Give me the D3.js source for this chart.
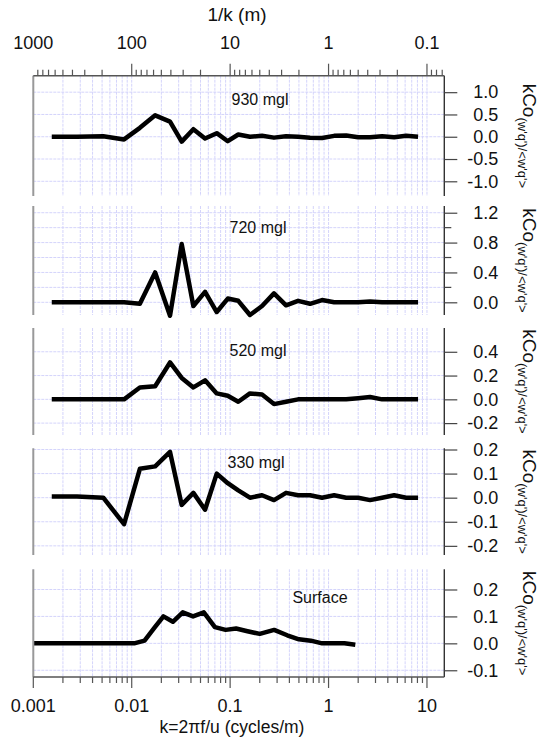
<!DOCTYPE html>
<html>
<head>
<meta charset="utf-8">
<script src="https://cdn.jsdelivr.net/npm/d3@7"></script>
<style>
  html, body { margin: 0; padding: 0; background: #fff; }
  svg { display: block; font-family: "Liberation Sans", Arial, sans-serif; }
</style>
</head>
<body>
<svg id="chart" width="539" height="738"></svg>
<script>
// Wavenumber grid shared by the four mixed-layer levels (cycles/m)
const kLevels = [0.00154, 0.00278, 0.00514, 0.00836, 0.0121, 0.0173, 0.0245, 0.0322,
  0.0423, 0.0556, 0.0731, 0.0946, 0.121, 0.159, 0.211, 0.279, 0.370, 0.490, 0.649,
  0.859, 1.14, 1.51, 2.00, 2.64, 3.50, 4.64, 6.14, 8.12];

// Normalised co-spectra kCo(w'q')/<w'q'> at each level
const co930 = [0.0, 0.0, 0.01, -0.06, 0.20, 0.48, 0.34, -0.11, 0.17, -0.04, 0.08, -0.10,
  0.05, 0.00, 0.02, -0.02, 0.01, 0.0, -0.02, -0.03, 0.02, 0.03, -0.01, -0.01, 0.01, -0.01, 0.02, 0.0];
const co720 = [0.0, 0.0, 0.0, 0.0, -0.02, 0.40, -0.18, 0.78, -0.05, 0.14, -0.13, 0.05,
  0.02, -0.17, -0.05, 0.12, -0.04, 0.02, -0.02, 0.03, 0.0, 0.0, 0.0, 0.01, 0.0, 0.0, 0.0, 0.0];
const co520 = [0.0, 0.0, 0.0, 0.0, 0.10, 0.11, 0.31, 0.18, 0.10, 0.16, 0.05, 0.03,
  -0.02, 0.05, 0.04, -0.04, -0.02, 0.0, 0.0, 0.0, 0.0, 0.0, 0.01, 0.02, 0.0, 0.0, 0.0, 0.0];
const co330 = [0.005, 0.005, 0.0, -0.11, 0.12, 0.13, 0.19, -0.03, 0.02, -0.05, 0.10, 0.06,
  0.03, 0.0, 0.01, -0.01, 0.02, 0.01, 0.01, 0.0, 0.01, 0.0, 0.0, -0.01, 0.0, 0.01, 0.0, 0.0];

// Surface layer has its own wavenumber grid
const kSurface = [0.001, 0.0106, 0.0135, 0.0172, 0.0210, 0.0262, 0.0330, 0.0420, 0.0540,
  0.0700, 0.0900, 0.115, 0.150, 0.200, 0.280, 0.380, 0.500, 0.660, 0.860, 1.12, 1.45, 1.87];
const coSurface = [0.0, 0.0, 0.01, 0.06, 0.10, 0.08, 0.115, 0.10, 0.115, 0.06, 0.05, 0.055,
  0.045, 0.035, 0.05, 0.03, 0.015, 0.01, 0.0, 0.0, 0.0, -0.005];

const panelNames = ["930 mgl", "720 mgl", "520 mgl", "330 mgl", "Surface"];
const panelSeries = [co930, co720, co520, co330, coSurface];
const panelK = [kLevels, kLevels, kLevels, kLevels, kSurface];
const panelTicks = [[-1, -0.5, 0, 0.5, 1], [0, 0.4, 0.8, 1.2], [-0.2, 0, 0.2, 0.4],
  [-0.2, -0.1, 0, 0.1, 0.2], [-0.1, 0, 0.1, 0.2]];
const panelMinor = [[], [0.2, 0.6, 1.0], [], [], []];
const panelDomains = [[-1.33, 1.37], [-0.17, 1.29], [-0.30, 0.60], [-0.238, 0.205], [-0.125, 0.275]];

const bottomTicks = [0.001, 0.01, 0.1, 1, 10];
const topTicks = [1000, 100, 10, 1, 0.1];

// ---- layout ----
const W = 539, H = 738;
const left = 33.3, right = 444.3;
const panelBox = [[75.7, 196], [206, 315], [328, 435], [448.3, 555], [569.3, 677]];
const labelPos = [[260, 105], [258, 233], [258, 356], [256, 468], [320, 603]];

const svg = d3.select("#chart");
const x = d3.scaleLog().domain([0.001, 15]).range([left, right]);
const axisCol = "#555", gridCol = "#d4d4fb";

// vertical grid at every minor wavenumber tick
const vgrid = [];
for (let d = 0.001; d < 15; d *= 10) for (let m = 1; m < 10; m++) {
  const v = +(d * m).toPrecision(3);
  if (v <= 15) vgrid.push(v);
}

const fmt = v => d3.format(".1f")(v).replace("\u2212", "-");

panelNames.forEach((name, i) => {
  const [y0, y1] = panelBox[i];
  const y = d3.scaleLinear().domain(panelDomains[i]).range([y1, y0]);
  const g = svg.append("g");

  g.selectAll("line.vg").data(vgrid).join("line")
    .attr("x1", d => x(d)).attr("x2", d => x(d)).attr("y1", y0).attr("y2", y1)
    .attr("stroke", gridCol).attr("stroke-width", 1).attr("stroke-dasharray", "3,1");

  g.selectAll("line.hg").data(panelTicks[i].concat(panelMinor[i])).join("line")
    .attr("x1", left).attr("x2", right).attr("y1", d => y(d)).attr("y2", d => y(d))
    .attr("stroke", gridCol).attr("stroke-width", 1).attr("stroke-dasharray", "3,1");

  // series
  const line = d3.line().x(d => x(d[0])).y(d => y(d[1]));
  g.append("path").datum(panelK[i].map((k, j) => [k, panelSeries[i][j]]))
    .attr("d", line).attr("fill", "none").attr("stroke", "#000")
    .attr("stroke-width", 4.5).attr("stroke-linejoin", "round");

  // left edge
  g.append("line").attr("x1", left).attr("x2", left).attr("y1", y0).attr("y2", y1)
    .attr("stroke", "#999").attr("stroke-width", 2);

  // right value axis
  const ax = d3.axisRight(y).tickValues(panelTicks[i]).tickFormat(fmt).tickSize(13).tickPadding(6);
  const ag = g.append("g").attr("transform", `translate(${right},0)`).call(ax);
  ag.select(".domain").attr("d", `M0,${y0}V${y1}`).attr("stroke", "#333").attr("stroke-width", 1.4);
  ag.selectAll(".tick line").attr("stroke", "#444").attr("stroke-width", 1.2);
  ag.selectAll("text").attr("font-size", 18).attr("fill", "#111")
    .attr("x", 54).attr("text-anchor", "end");
  ag.attr("font-family", null);
  if (panelMinor[i].length) {
    g.selectAll("line.mt").data(panelMinor[i]).join("line")
      .attr("x1", right).attr("x2", right + 7).attr("y1", d => y(d)).attr("y2", d => y(d))
      .attr("stroke", "#444").attr("stroke-width", 1.2);
  }

  // axis title on the right
  const t = g.append("text")
    .attr("transform", `translate(523,${(y0 + y1) / 2}) rotate(90)`)
    .attr("text-anchor", "middle").attr("fill", "#111");
  t.append("tspan").attr("font-size", 19).text("kCo");
  t.append("tspan").attr("font-size", 13).attr("dy", 5).text("(w'q')/<w'q'>");

  // level label
  g.append("text").attr("x", labelPos[i][0]).attr("y", labelPos[i][1])
    .attr("text-anchor", "middle").attr("font-size", 16).attr("fill", "#111").text(name);
});

// bottom wavenumber axis
const yb = panelBox[4][1];
const bottom = svg.append("g");
bottom.append("line").attr("x1", left).attr("x2", right).attr("y1", yb).attr("y2", yb)
  .attr("stroke", axisCol).attr("stroke-width", 1.4);
bottom.selectAll("line.t").data(vgrid.filter(v => v <= 10)).join("line")
  .attr("x1", d => x(d)).attr("x2", d => x(d)).attr("y1", yb)
  .attr("y2", d => bottomTicks.includes(d) ? yb + 11 : yb + 6)
  .attr("stroke", axisCol).attr("stroke-width", 1.2);
bottom.selectAll("text.t").data(bottomTicks).join("text")
  .attr("x", d => x(d)).attr("y", 712).attr("text-anchor", "middle")
  .attr("font-size", 18).attr("fill", "#111").text(d => String(d));
bottom.append("text").attr("x", 232).attr("y", 733).attr("text-anchor", "middle")
  .attr("font-size", 17.5).attr("fill", "#111").text("k=2\u03c0f/u (cycles/m)");

// top wavelength axis (1/k)
const yt = panelBox[0][0];
const topG = svg.append("g");
const wl = [];
for (let d = 1000; d >= 0.01; d /= 10) for (let m = 1; m < 10; m++) {
  const v = +(d / 10 * m).toPrecision(3);
  if (1 / v >= 0.001 && 1 / v <= 15) wl.push(v);
}
topG.append("line").attr("x1", left).attr("x2", right).attr("y1", yt).attr("y2", yt)
  .attr("stroke", axisCol).attr("stroke-width", 1.4);
topG.selectAll("line.t").data(wl).join("line")
  .attr("x1", d => x(1 / d)).attr("x2", d => x(1 / d)).attr("y1", yt)
  .attr("y2", d => topTicks.includes(d) ? yt - 12 : yt - 6)
  .attr("stroke", axisCol).attr("stroke-width", 1.2);
topG.selectAll("text.t").data(topTicks).join("text")
  .attr("x", d => x(1 / d)).attr("y", 49).attr("text-anchor", "middle")
  .attr("font-size", 18).attr("fill", "#111").text(d => String(d));
topG.append("text").attr("x", 237).attr("y", 21).attr("text-anchor", "middle")
  .attr("font-size", 19).attr("fill", "#111").text("1/k (m)");
</script>
</body>
</html>
